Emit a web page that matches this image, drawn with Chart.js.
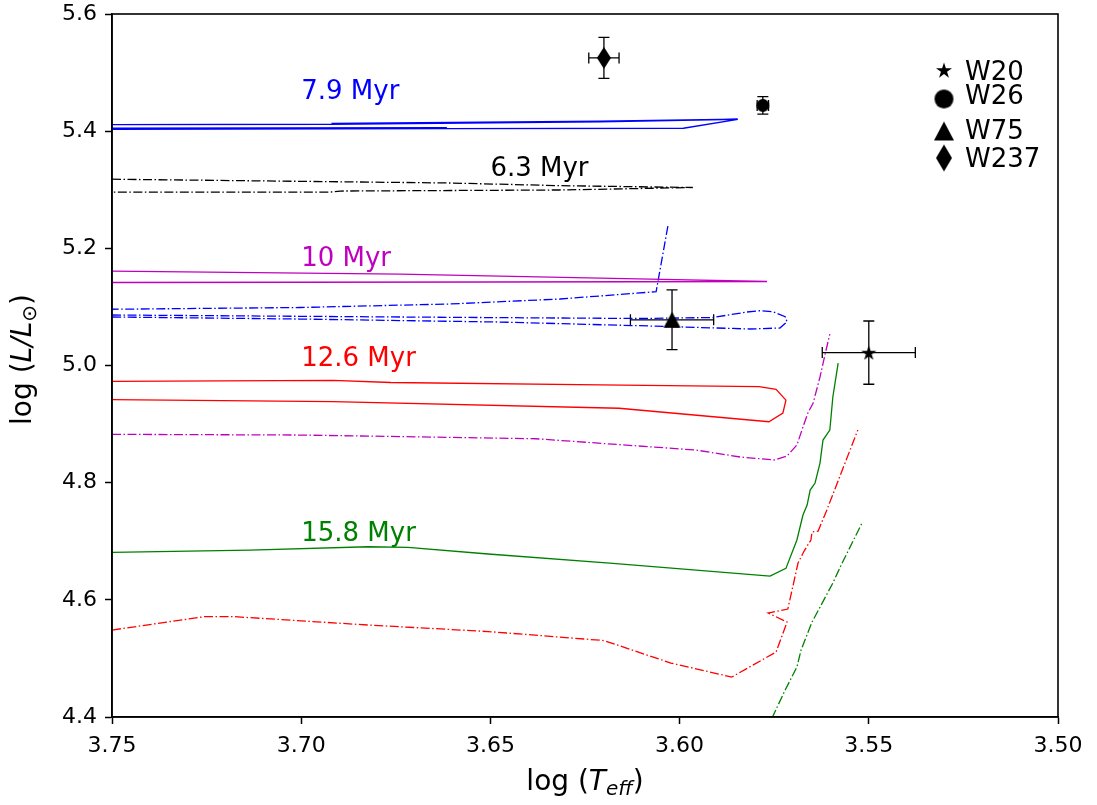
<!DOCTYPE html>
<html>
<head>
<meta charset="utf-8">
<title>HR diagram – isochrones</title>
<script src="https://cdn.jsdelivr.net/npm/chart.js@4.4.1/dist/chart.umd.min.js"></script>
<style>
  html, body { margin: 0; padding: 0; background: #fff; }
  #wrap { width: 1097px; height: 805px; }
</style>
</head>
<body>
<div id="wrap"><canvas id="hrd" width="1097" height="805"></canvas></div>
<script>
// ─── Isochrones (log Teff, log L/Lsun); null splits a track into pieces ───────
const iso79X = [3.750, 3.692, 3.621, 3.5846, 3.599, 3.6615, 3.750, null, 3.692, 3.621, 3.5848, null, 3.6615, 3.750];
const iso79Y = [5.411, 5.4118, 5.416, 5.420, 5.405, 5.4045, 5.403, null, 5.4132, 5.4172, 5.4205, null, 5.4058, 5.4052];

const iso63X = [3.750, 3.6607, 3.6316, 3.5965, 3.6316, 3.6897, 3.6924, 3.750];
const iso63Y = [5.318, 5.3115, 5.307, 5.3038, 5.2996, 5.2978, 5.296, 5.296];

const iso10X = [3.750, 3.6739, 3.6078, 3.5769, 3.650, 3.750];
const iso10Y = [5.161, 5.156, 5.1476, 5.1434, 5.1425, 5.1417];

const iso79bX = [3.6031, 3.6062, 3.6316, 3.6607, 3.7003, 3.750, null,
  3.750, 3.6739, 3.6105, 3.5912, 3.5822, 3.5788, 3.5753, 3.5721, 3.5716, 3.5735, 3.5814, 3.6078, 3.6475, 3.7003, 3.750];
const iso79bY = [5.238, 5.126, 5.1135, 5.105, 5.099, 5.096, null,
  5.0862, 5.0828, 5.0802, 5.0819, 5.0913, 5.0935, 5.0918, 5.0833, 5.0747, 5.064, 5.0623, 5.0674, 5.0742, 5.0793, 5.0828];

const iso126X = [3.750, 3.6916, 3.6763, 3.6210, 3.5790, 3.5745, 3.5719, 3.5727, 3.5764, 3.6160, 3.6916, 3.750];
const iso126Y = [4.973, 4.9747, 4.971, 4.967, 4.9638, 4.9593, 4.941, 4.9189, 4.904, 4.927, 4.9385, 4.9416];

const iso10bX = [3.750, 3.7003, 3.638, 3.5957, 3.5840, 3.5748, 3.5716, 3.569, 3.5674, 3.5661, 3.5647, 3.5629, 3.5616, 3.5603];
const iso10bY = [4.8825, 4.8813, 4.875, 4.8557, 4.8438, 4.8387, 4.8455, 4.8643, 4.895, 4.9189, 4.936, 4.9803, 5.0179, 5.0537];

const iso158X = [3.750, 3.7135, 3.6823, 3.6718, 3.6506, 3.6176, 3.5761, 3.5719, 3.569, 3.5674, 3.5663, 3.5655, 3.5642, 3.5629, 3.5621, 3.5603, 3.5595, 3.5581];
const iso158Y = [4.6811, 4.685, 4.6906, 4.6896, 4.6782, 4.6623, 4.6406, 4.6537, 4.7021, 4.7447, 4.7618, 4.7874, 4.7994, 4.8335, 4.8728, 4.8899, 4.9462, 5.0042];

const iso126bX = [3.750, 3.7254, 3.7183, 3.6823, 3.6506, 3.6200, 3.6023, 3.5862, 3.5745, 3.5716, 3.5766, 3.5714, 3.5687, 3.5671, 3.5653, 3.5650, 3.5634, 3.5613, 3.5529];
const iso126bY = [4.5484, 4.5715, 4.5715, 4.5570, 4.5459, 4.5305, 4.4921, 4.4682, 4.5109, 4.5621, 4.5775, 4.5843, 4.6628, 4.6833, 4.7021, 4.7157, 4.7174, 4.7499, 4.8899];

const iso158bX = [3.5756, 3.5721, 3.5690, 3.5679, 3.5650, 3.5595, 3.5573, 3.5518];
const iso158bY = [4.398, 4.446, 4.4853, 4.5143, 4.5621, 4.6287, 4.6594, 4.7311];

// ─── Observed stars with errors ───────────────────────────────────────────────
const starNames = ['W20', 'W26', 'W75', 'W237'];
const starTeff = [3.550, 3.578, 3.602, 3.620];
const starLum = [5.022, 5.444, 5.078, 5.525];
const starTeffErr = [0.0123, 0.0015, 0.011, 0.004];
const starLumErr = [0.054, 0.015, 0.051, 0.035];

// ─── Age labels ───────────────────────────────────────────────────────────────
const ageText = ['7.9 Myr', '6.3 Myr', '10 Myr', '12.6 Myr', '15.8 Myr'];
const ageX = [3.70, 3.65, 3.70, 3.70, 3.70];
const ageY = [5.455, 5.323, 5.17, 5.00, 4.70];
const ageColor = ['#0000ff', '#000000', '#bf00bf', '#ff0000', '#008000'];

const FONT = '"DejaVu Sans", sans-serif';
const TEXT_SIZE = 26;
const TITLE_SIZE = 28;
const TICK_SIZE = 22;
const DASHDOT = [9, 2.5, 1.5, 2.5];

const pts = (xs, ys) => xs.map((x, i) => ({ x, y: ys[i] }));

function track(xs, ys, color, dashed) {
  return {
    data: pts(xs, ys), showLine: true, borderColor: color, borderWidth: 1.3,
    borderDash: dashed ? DASHDOT : [], pointRadius: 0, fill: false, tension: 0, spanGaps: false, order: 2,
  };
}

// filled marker shapes as little canvases
function makeMarker(shape, w, h) {
  const c = document.createElement('canvas');
  c.width = Math.ceil(w) + 2; c.height = Math.ceil(h) + 2;
  const g = c.getContext('2d');
  g.fillStyle = '#000';
  g.translate(c.width / 2, c.height / 2);
  g.beginPath();
  if (shape === 'star') {
    const r = w / 1.902;
    for (let i = 0; i < 10; i++) {
      const rr = i % 2 ? r * 0.382 : r;
      const a = -Math.PI / 2 + i * Math.PI / 5;
      g.lineTo(rr * Math.cos(a), rr * Math.sin(a) + r * 0.1);
    }
  } else if (shape === 'circle') {
    g.arc(0, 0, w / 2, 0, Math.PI * 2);
  } else if (shape === 'triangle') {
    g.moveTo(0, -h / 2); g.lineTo(w / 2, h / 2); g.lineTo(-w / 2, h / 2);
  } else {
    g.moveTo(0, -h / 2); g.lineTo(w / 2, 0); g.lineTo(0, h / 2); g.lineTo(-w / 2, 0);
  }
  g.closePath(); g.fill();
  return c;
}

const plotMarkers = [makeMarker('star', 15, 15), makeMarker('circle', 13, 13), makeMarker('triangle', 17, 16), makeMarker('diamond', 14, 22)];
const legendMarkers = [makeMarker('star', 16, 16), makeMarker('circle', 19, 19), makeMarker('triangle', 20, 19), makeMarker('diamond', 16, 27)];

const starSets = starNames.map((n, i) => ({
  label: n, data: [{ x: starTeff[i], y: starLum[i] }], pointStyle: plotMarkers[i],
  pointRadius: 6, showLine: false, order: 0,
}));

// error bars under the markers
const errorBars = {
  id: 'errorBars',
  beforeDatasetsDraw(chart) {
    const { ctx, scales: { x, y } } = chart;
    ctx.save();
    ctx.strokeStyle = '#000'; ctx.lineWidth = 1.3;
    starTeff.forEach((t, i) => {
      const cx = x.getPixelForValue(t), cy = y.getPixelForValue(starLum[i]);
      const x0 = x.getPixelForValue(t + starTeffErr[i]), x1 = x.getPixelForValue(t - starTeffErr[i]);
      const y0 = y.getPixelForValue(starLum[i] + starLumErr[i]), y1 = y.getPixelForValue(starLum[i] - starLumErr[i]);
      const cap = 5.5;
      ctx.beginPath();
      ctx.moveTo(x0, cy); ctx.lineTo(x1, cy);
      ctx.moveTo(cx, y0); ctx.lineTo(cx, y1);
      ctx.moveTo(x0, cy - cap); ctx.lineTo(x0, cy + cap);
      ctx.moveTo(x1, cy - cap); ctx.lineTo(x1, cy + cap);
      ctx.moveTo(cx - cap, y0); ctx.lineTo(cx + cap, y0);
      ctx.moveTo(cx - cap, y1); ctx.lineTo(cx + cap, y1);
      ctx.stroke();
    });
    ctx.restore();
  },
};

// frame, age labels, legend and axis titles
const decorations = {
  id: 'decorations',
  afterDraw(chart) {
    const { ctx, chartArea: a, scales: { x, y } } = chart;
    ctx.save();
    ctx.strokeStyle = '#000'; ctx.lineWidth = 1.6;
    ctx.strokeRect(a.left, a.top, a.right - a.left, a.bottom - a.top);

    ctx.font = `${TEXT_SIZE}px ${FONT}`;
    ctx.textAlign = 'left'; ctx.textBaseline = 'alphabetic';
    ageText.forEach((t, i) => {
      ctx.fillStyle = ageColor[i];
      ctx.fillText(t, x.getPixelForValue(ageX[i]), y.getPixelForValue(ageY[i]));
    });

    // legend
    const legY = [56, 85, 117, 144];
    const txtY = [59, 83, 118, 146];
    ctx.fillStyle = '#000'; ctx.textBaseline = 'middle';
    starNames.forEach((n, i) => {
      const m = legendMarkers[i];
      ctx.drawImage(m, a.right - 114 - m.width / 2, a.top + legY[i] - m.height / 2);
      ctx.fillText(n, a.right - 93, a.top + txtY[i]);
    });

    // axis titles with italics and subscripts
    const pieces = (parts) => parts.map(([s, st, sz, dy]) => {
      ctx.font = `${st} ${sz}px ${FONT}`;
      return { s, st, sz, dy, w: ctx.measureText(s).width };
    });
    const drawPieces = (list, x0, base) => {
      let cx = x0;
      list.forEach((p) => {
        ctx.font = `${p.st} ${p.sz}px ${FONT}`;
        ctx.fillText(p.s, cx, base + p.dy);
        cx += p.w;
      });
    };
    const sub = Math.round(TITLE_SIZE * 0.7);
    ctx.textBaseline = 'alphabetic'; ctx.textAlign = 'left';
    const xt = pieces([['log (', 'normal', TITLE_SIZE, 0], ['T', 'italic', TITLE_SIZE, 0], ['eff', 'italic', sub, 5], [')', 'normal', TITLE_SIZE, 0]]);
    const xw = xt.reduce((s, p) => s + p.w, 0);
    drawPieces(xt, (a.left + a.right) / 2 - xw / 2, 790);

    const yt = pieces([['log (', 'normal', TITLE_SIZE, 0], ['L/L', 'italic', TITLE_SIZE, 0], ['⊙', 'normal', sub, 5], [')', 'normal', TITLE_SIZE, 0]]);
    const yw = yt.reduce((s, p) => s + p.w, 0);
    ctx.translate(31, (a.top + a.bottom) / 2 - 6);
    ctx.rotate(-Math.PI / 2);
    drawPieces(yt, -yw / 2, 0);
    ctx.restore();
  },
};

new Chart(document.getElementById('hrd'), {
  type: 'scatter',
  data: {
    datasets: [
      ...starSets,
      track(iso79X, iso79Y, '#0000ff', false),
      track(iso63X, iso63Y, '#000000', true),
      track(iso10X, iso10Y, '#bf00bf', false),
      track(iso79bX, iso79bY, '#0000ff', true),
      track(iso126X, iso126Y, '#ff0000', false),
      track(iso10bX, iso10bY, '#bf00bf', true),
      track(iso158X, iso158Y, '#008000', false),
      track(iso126bX, iso126bY, '#ff0000', true),
      track(iso158bX, iso158bY, '#008000', true),
    ],
  },
  options: {
    responsive: false,
    animation: false,
    layout: { padding: { top: 14, right: 39, bottom: 0, left: 0 } },
    plugins: { legend: { display: false }, tooltip: { enabled: false } },
    scales: {
      x: {
        type: 'linear', min: 3.5, max: 3.75, reverse: true,
        afterFit: (s) => { s.height = 88; s.paddingLeft = 0; s.paddingRight = 0; },
        ticks: { stepSize: 0.05, autoSkip: false, maxRotation: 0, padding: 9, color: '#000',
          font: { family: FONT, size: TICK_SIZE }, callback: (v) => v.toFixed(2) },
        grid: { drawOnChartArea: false, drawTicks: true, tickLength: 7, tickWidth: 1.5, tickColor: '#000' },
        border: { display: true, color: '#000', width: 1.6 },
      },
      y: {
        type: 'linear', min: 4.4, max: 5.6,
        afterFit: (s) => { s.width = 112; s.paddingTop = 0; s.paddingBottom = 0; },
        ticks: { stepSize: 0.2, autoSkip: false, padding: 8, color: '#000',
          font: { family: FONT, size: TICK_SIZE }, callback: (v) => v.toFixed(1) },
        grid: { drawOnChartArea: false, drawTicks: true, tickLength: 7, tickWidth: 1.5, tickColor: '#000' },
        border: { display: true, color: '#000', width: 1.6 },
      },
    },
  },
  plugins: [errorBars, decorations],
});
</script>
</body>
</html>
